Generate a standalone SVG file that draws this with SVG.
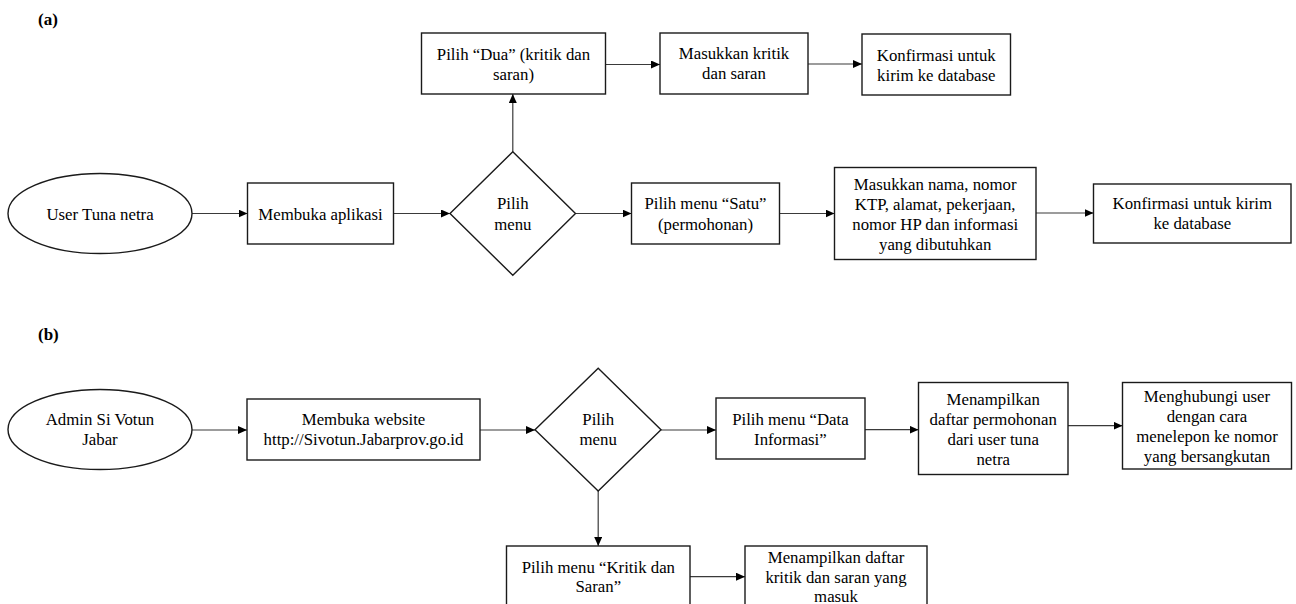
<svg xmlns="http://www.w3.org/2000/svg" width="1296" height="604" viewBox="0 0 1296 604">
<style>
.n{fill:#fff;stroke:#1a1a1a;stroke-width:1.4}
.t{font-family:'Liberation Serif','DejaVu Serif',serif;font-size:16.8px;fill:#000;text-anchor:middle}
.lbl{font-family:'Liberation Serif','DejaVu Serif',serif;font-size:17px;font-weight:bold;fill:#000}
.c{fill:none;stroke:#3a3a3a;stroke-width:1.2;marker-end:url(#ah)}
</style>
<defs>
<marker id="ah" markerUnits="userSpaceOnUse" markerWidth="9" markerHeight="8" refX="9" refY="4" orient="auto">
<path d="M0,0 L9,4 L0,8 z" fill="#000"/>
</marker>
</defs>
<rect width="1296" height="604" fill="#fff"/>
<text class="lbl" x="38" y="25">(a)</text>
<text class="lbl" x="38" y="340">(b)</text>
<g id="connectors">
<line class="c" x1="192" y1="213.5" x2="247.5" y2="213.5"/>
<line class="c" x1="393.5" y1="213.5" x2="450" y2="213.5"/>
<line class="c" x1="575.5" y1="213.5" x2="631.5" y2="213.5"/>
<line class="c" x1="512.8" y1="151.7" x2="512.8" y2="94"/>
<line class="c" x1="605.5" y1="64.5" x2="660" y2="64.5"/>
<line class="c" x1="808" y1="64" x2="862" y2="64"/>
<line class="c" x1="779.5" y1="213.5" x2="834.5" y2="213.5"/>
<line class="c" x1="1036" y1="213" x2="1093.5" y2="213"/>
<line class="c" x1="192" y1="430" x2="247" y2="430"/>
<line class="c" x1="480" y1="430" x2="535" y2="430"/>
<line class="c" x1="661" y1="430" x2="716" y2="430"/>
<line class="c" x1="865" y1="429.7" x2="918.5" y2="429.7"/>
<line class="c" x1="1068" y1="425.7" x2="1122.5" y2="425.7"/>
<line class="c" x1="598.2" y1="491" x2="598.2" y2="546"/>
<line class="c" x1="690" y1="576.7" x2="745" y2="576.7"/>
</g>
<g id="a-user">
<ellipse class="n" cx="100" cy="213.5" rx="92" ry="40"/>
<text class="t" x="100" y="219.5">User Tuna netra</text>
</g>
<g id="a-buka">
<rect class="n" x="247.5" y="183" width="146" height="61"/>
<text class="t" x="320.5" y="219.5">Membuka aplikasi</text>
</g>
<g id="a-menu">
<polygon class="n" points="512.8,151.7 575.5,213.5 512.8,275.3 450,213.5"/>
<text class="t" x="512.8" y="209">Pilih</text>
<text class="t" x="512.8" y="230">menu</text>
</g>
<g id="a-dua">
<rect class="n" x="421.5" y="33" width="184" height="61"/>
<text class="t" x="513.5" y="60">Pilih “Dua” (kritik dan</text>
<text class="t" x="513.5" y="80">saran)</text>
</g>
<g id="a-kritik">
<rect class="n" x="660" y="33" width="148" height="61"/>
<text class="t" x="734" y="59">Masukkan kritik</text>
<text class="t" x="734" y="79">dan saran</text>
</g>
<g id="a-konfirmasi1">
<rect class="n" x="862" y="34" width="148.5" height="61"/>
<text class="t" x="936.3" y="61">Konfirmasi untuk</text>
<text class="t" x="936.3" y="81">kirim ke database</text>
</g>
<g id="a-satu">
<rect class="n" x="631.5" y="183" width="148" height="61"/>
<text class="t" x="705.5" y="209">Pilih menu “Satu”</text>
<text class="t" x="705.5" y="230">(permohonan)</text>
</g>
<g id="a-nama">
<rect class="n" x="834.5" y="167.5" width="201.5" height="92"/>
<text class="t" x="935.2" y="189.5">Masukkan nama, nomor</text>
<text class="t" x="935.2" y="209.5">KTP, alamat, pekerjaan,</text>
<text class="t" x="935.2" y="230">nomor HP dan informasi</text>
<text class="t" x="935.2" y="250">yang dibutuhkan</text>
</g>
<g id="a-konfirmasi2">
<rect class="n" x="1093.5" y="184" width="197.5" height="59"/>
<text class="t" x="1192.3" y="209">Konfirmasi untuk kirim</text>
<text class="t" x="1192.3" y="229">ke database</text>
</g>
<g id="b-admin">
<ellipse class="n" cx="100" cy="429.5" rx="92" ry="40"/>
<text class="t" x="100" y="425">Admin Si Votun</text>
<text class="t" x="100" y="445">Jabar</text>
</g>
<g id="b-website">
<rect class="n" x="247" y="399" width="233" height="61"/>
<text class="t" x="363.5" y="425">Membuka website</text>
<text class="t" x="363.5" y="445">http://Sivotun.Jabarprov.go.id</text>
</g>
<g id="b-menu">
<polygon class="n" points="598.2,368.3 661,429.7 598.2,491 535,429.7"/>
<text class="t" x="598.2" y="425">Pilih</text>
<text class="t" x="598.2" y="445">menu</text>
</g>
<g id="b-data">
<rect class="n" x="716" y="398" width="149" height="61"/>
<text class="t" x="790.4" y="424.5">Pilih menu “Data</text>
<text class="t" x="790.4" y="445">Informasi”</text>
</g>
<g id="b-daftar">
<rect class="n" x="918.5" y="382.5" width="149.5" height="92"/>
<text class="t" x="993.2" y="404.5">Menampilkan</text>
<text class="t" x="993.2" y="425">daftar permohonan</text>
<text class="t" x="993.2" y="445">dari user tuna</text>
<text class="t" x="993.2" y="465">netra</text>
</g>
<g id="b-hubungi">
<rect class="n" x="1122.5" y="382.5" width="169" height="86.5"/>
<text class="t" x="1207" y="402">Menghubungi user</text>
<text class="t" x="1207" y="422">dengan cara</text>
<text class="t" x="1207" y="442">menelepon ke nomor</text>
<text class="t" x="1207" y="462">yang bersangkutan</text>
</g>
<g id="b-kritik">
<rect class="n" x="506.5" y="546" width="183.5" height="70"/>
<text class="t" x="598.3" y="572.5">Pilih menu “Kritik dan</text>
<text class="t" x="598.3" y="592">Saran”</text>
</g>
<g id="b-daftarkritik">
<rect class="n" x="745" y="546" width="182" height="70"/>
<text class="t" x="836" y="562.5">Menampilkan daftar</text>
<text class="t" x="836" y="582.5">kritik dan saran yang</text>
<text class="t" x="836" y="602">masuk</text>
</g>
</svg>
